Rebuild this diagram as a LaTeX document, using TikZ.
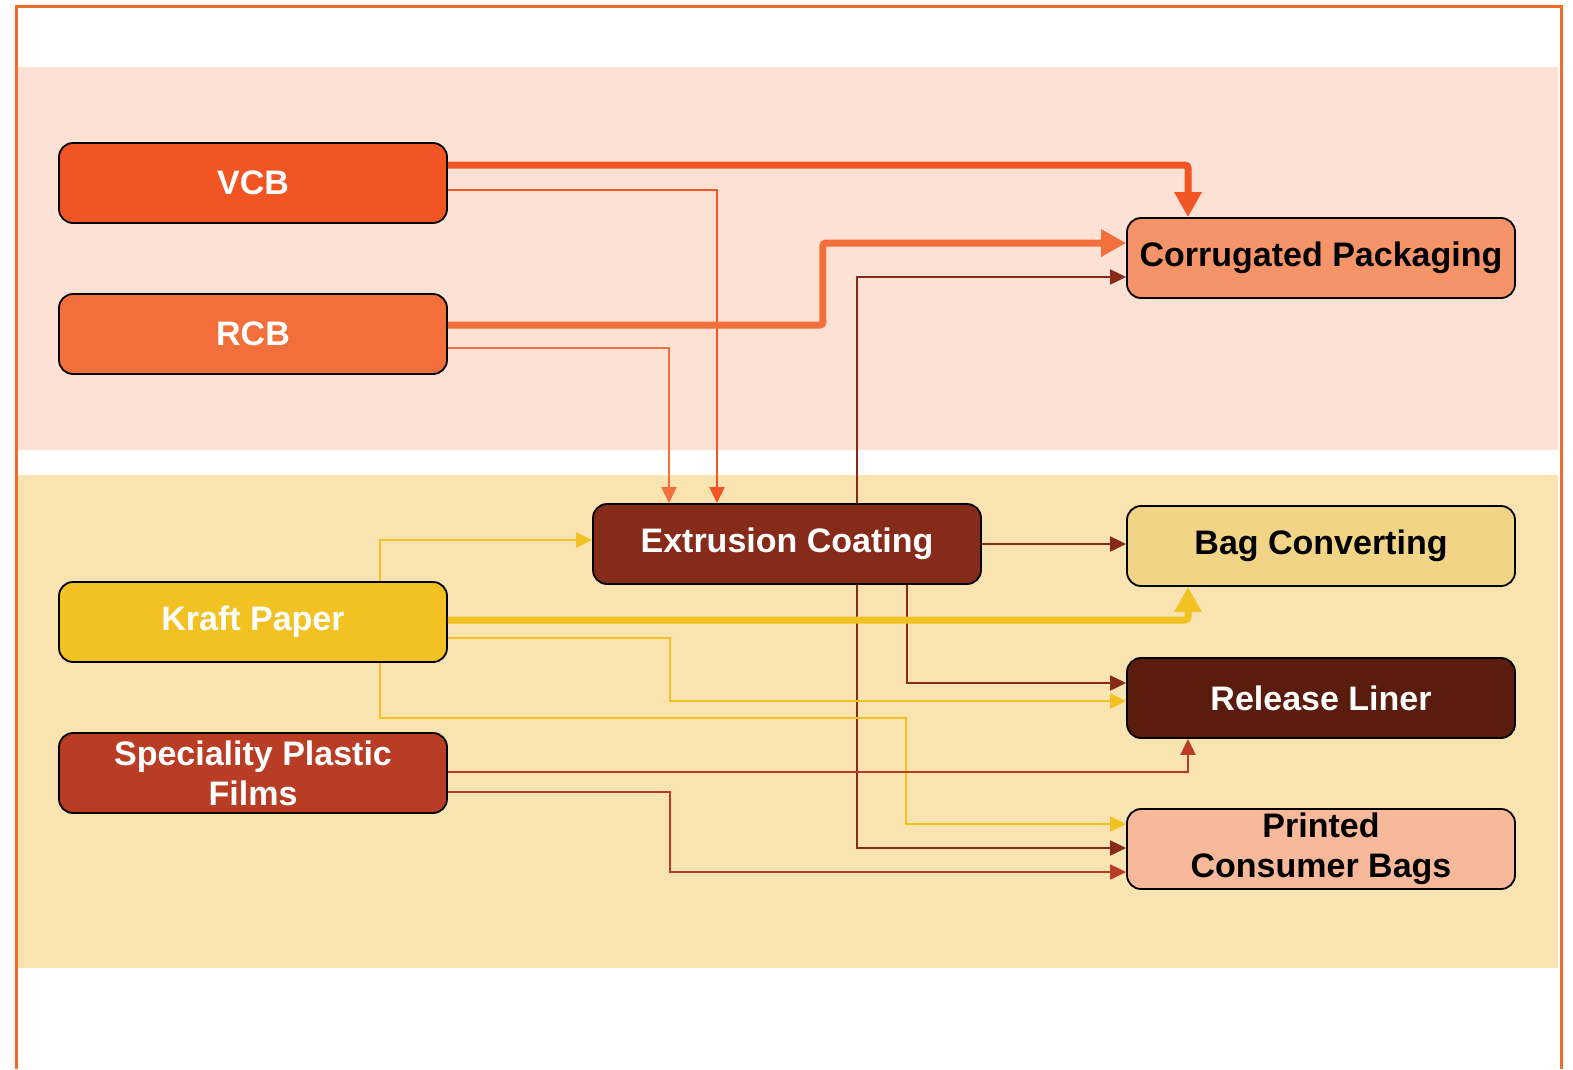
\documentclass[tikz,border=0pt]{standalone}
\usepackage{fontspec}
\setmainfont{Liberation Sans}
\usepackage{xcolor}
\usepackage{tikz}
\usetikzlibrary{arrows.meta}

\definecolor{frameor}{HTML}{F26B2A}
\definecolor{bandpink}{HTML}{FCE1D4}
\definecolor{bandyel}{HTML}{F9E3B1}
\definecolor{vcbcol}{HTML}{F15524}
\definecolor{rcbcol}{HTML}{F26E3A}
\definecolor{corrcol}{HTML}{F59469}
\definecolor{extcol}{HTML}{862A19}
\definecolor{bagcol}{HTML}{F2D487}
\definecolor{kraftcol}{HTML}{F2C222}
\definecolor{relcol}{HTML}{5A1C0C}
\definecolor{speccol}{HTML}{B83D24}
\definecolor{prtcol}{HTML}{F8B89A}

\begin{document}
\begin{tikzpicture}[x=1pt,y=-1pt,
box/.style={draw=black,line width=1.8pt,rounded corners=14pt,minimum width=388pt,minimum height=80pt,inner sep=0pt,align=center,font=\fontsize{34}{40}\selectfont\bfseries},
link/.style={line width=2pt,-{Triangle[length=16pt,width=15pt]}},
mainlink/.style={line width=7pt,rounded corners=3pt,-{Triangle[length=25pt,width=26pt]}}]
\useasboundingbox (0,0) rectangle (1573,1069);
% bands and frame
\fill[bandpink](18,67) rectangle (1558,450);
\fill[bandyel](18,475) rectangle (1558,968);
\draw[frameor,line width=3pt](16,1069)--(16,6)--(1561,6)--(1561,1069);
% boxes
\node[box,fill=vcbcol,text=white](vcb) at (253,183){VCB};
\node[box,fill=rcbcol,text=white](rcb) at (253,334){RCB};
\node[box,fill=corrcol](corr) at (1321,258){Corrugated Packaging};
\node[box,fill=extcol,text=white](ext) at (787,544){Extrusion Coating};
\node[box,fill=bagcol](bag) at (1321,546){Bag Converting};
\node[box,fill=kraftcol,text=white](kraft) at (253,622){Kraft Paper};
\node[box,fill=relcol,text=white](rel) at (1321,698){Release Liner};
\node[box,fill=speccol,text=white](spec) at (253,773){Speciality Plastic\\Films};
\node[box,fill=prtcol](prt) at (1321,849){Printed\\Consumer Bags};
% orange links
\draw[mainlink,vcbcol]([yshift=18pt]vcb.east)-|([xshift=-133pt]corr.north);
\draw[link,vcbcol]([yshift=-7pt]vcb.east)-|([xshift=-70pt]ext.north);
\draw[mainlink,rcbcol]([yshift=9pt]rcb.east)--++(375,0)|-([yshift=15pt]corr.west);
\draw[link,rcbcol]([yshift=-14pt]rcb.east)-|([xshift=-118pt]ext.north);
% extrusion links
\draw[link,extcol]([xshift=70pt]ext.north)|-([yshift=-19pt]corr.west);
\draw[link,extcol](ext.east)--(ext.east-|bag.west);
\draw[link,extcol]([xshift=120pt]ext.south)|-([yshift=15pt]rel.west);
\draw[link,extcol]([xshift=70pt]ext.south)|-([yshift=1pt]prt.west);
% kraft links
\draw[link,kraftcol]([xshift=127pt]kraft.north)|-([yshift=4pt]ext.west);
\draw[mainlink,kraftcol]([yshift=2pt]kraft.east)-|([xshift=-133pt]bag.south);
\draw[link,kraftcol]([yshift=-16pt]kraft.east)--++(222,0)|-([yshift=-3pt]rel.west);
\draw[link,kraftcol]([xshift=127pt]kraft.south)--++(0,55)--++(526,0)|-([yshift=25pt]prt.west);
% speciality links
\draw[link,speccol]([yshift=1pt]spec.east)-|([xshift=-133pt]rel.south);
\draw[link,speccol]([yshift=-19pt]spec.east)--++(222,0)|-([yshift=-23pt]prt.west);
\end{tikzpicture}
\end{document}
